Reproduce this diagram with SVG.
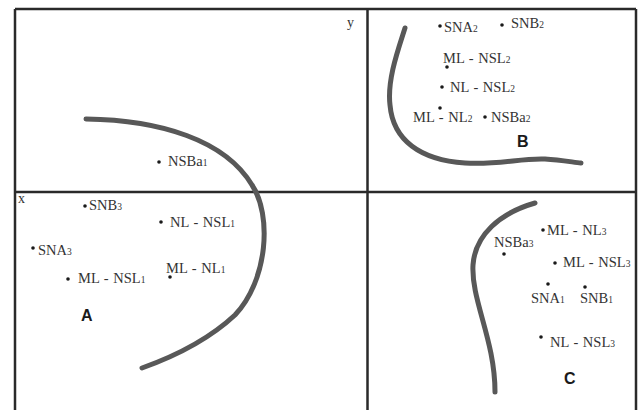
<svg xmlns="http://www.w3.org/2000/svg" width="638" height="410" viewBox="0 0 638 410">
<style>
.frame{stroke:#2a2a2a;stroke-width:2.5;fill:none}
.curve{stroke:#585858;stroke-width:5;fill:none;stroke-linecap:round}
.t{font-family:"Liberation Serif","Times New Roman",serif;font-size:14.5px;fill:#333;word-spacing:1px}
.s{font-size:9.5px}
.ax{font-family:"Liberation Serif","Times New Roman",serif;font-size:14px;fill:#333}
.q{font-family:"Liberation Sans",Arial,sans-serif;font-size:16px;font-weight:bold;fill:#1a1a1a}
.d{fill:#1a1a1a}
</style>
<rect width="638" height="410" fill="#fff"/>
<g id="frame">
<path class="frame" d="M15,9 H636 M15,9 V410 M636,9 V410 M15,192 H636 M367.5,9 V410"/>
</g>
<g id="connectors">
<path class="curve" d="M86,119 C160,120 225,140 252,185 C272,215 268,280 235,315 C205,343 170,358 142,368"/>
<path class="curve" d="M405,28 C398,50 387,80 390,105 C393,140 420,160 465,163 C500,165 520,158 545,159 C560,160 572,162 581,163"/>
<path class="curve" d="M535,203 C500,213 475,235 473,265 C471,300 495,340 495,392"/>
</g>
<g id="axis-x"><text class="ax" x="18" y="203">x</text></g>
<g id="axis-y"><text class="ax" x="347" y="27">y</text></g>
<g id="label-A"><text class="q" x="81" y="321">A</text></g>
<g id="label-B"><text class="q" x="517" y="147">B</text></g>
<g id="label-C"><text class="q" x="564" y="384">C</text></g>
<g id="NSBa1"><circle class="d" cx="159" cy="162" r="1.8"/><text class="t" x="168" y="166">NSBa<tspan class="s">1</tspan></text></g>
<g id="SNB3"><circle class="d" cx="85" cy="206" r="1.8"/><text class="t" x="89" y="210">SNB<tspan class="s">3</tspan></text></g>
<g id="NL-NSL1"><circle class="d" cx="161" cy="222" r="1.8"/><text class="t" x="170" y="227">NL - NSL<tspan class="s">1</tspan></text></g>
<g id="SNA3"><circle class="d" cx="33" cy="248" r="1.8"/><text class="t" x="38" y="255">SNA<tspan class="s">3</tspan></text></g>
<g id="ML-NL1"><circle class="d" cx="170" cy="277" r="1.8"/><text class="t" x="166" y="273">ML - NL<tspan class="s">1</tspan></text></g>
<g id="ML-NSL1"><circle class="d" cx="68" cy="279" r="1.8"/><text class="t" x="78" y="283">ML - NSL<tspan class="s">1</tspan></text></g>
<g id="SNA2"><circle class="d" cx="440" cy="26" r="1.8"/><text class="t" x="444" y="32">SNA<tspan class="s">2</tspan></text></g>
<g id="SNB2"><circle class="d" cx="502" cy="25" r="1.8"/><text class="t" x="511" y="28">SNB<tspan class="s">2</tspan></text></g>
<g id="ML-NSL2"><circle class="d" cx="447" cy="67" r="1.8"/><text class="t" x="443" y="63">ML - NSL<tspan class="s">2</tspan></text></g>
<g id="NL-NSL2"><circle class="d" cx="442" cy="87" r="1.8"/><text class="t" x="450" y="92">NL - NSL<tspan class="s">2</tspan></text></g>
<g id="ML-NL2"><circle class="d" cx="440" cy="108" r="1.8"/><text class="t" x="413" y="122">ML - NL<tspan class="s">2</tspan></text></g>
<g id="NSBa2"><circle class="d" cx="485" cy="117" r="1.8"/><text class="t" x="491" y="122">NSBa<tspan class="s">2</tspan></text></g>
<g id="ML-NL3"><circle class="d" cx="543" cy="230" r="1.8"/><text class="t" x="547" y="235">ML - NL<tspan class="s">3</tspan></text></g>
<g id="NSBa3"><circle class="d" cx="504" cy="254" r="1.8"/><text class="t" x="494" y="247">NSBa<tspan class="s">3</tspan></text></g>
<g id="ML-NSL3"><circle class="d" cx="555" cy="263" r="1.8"/><text class="t" x="563" y="267">ML - NSL<tspan class="s">3</tspan></text></g>
<g id="SNA1"><circle class="d" cx="548" cy="284" r="1.8"/><text class="t" x="531" y="303">SNA<tspan class="s">1</tspan></text></g>
<g id="SNB1"><circle class="d" cx="585" cy="287" r="1.8"/><text class="t" x="580" y="303">SNB<tspan class="s">1</tspan></text></g>
<g id="NL-NSL3"><circle class="d" cx="541" cy="337" r="1.8"/><text class="t" x="550" y="347">NL - NSL<tspan class="s">3</tspan></text></g>
</svg>
